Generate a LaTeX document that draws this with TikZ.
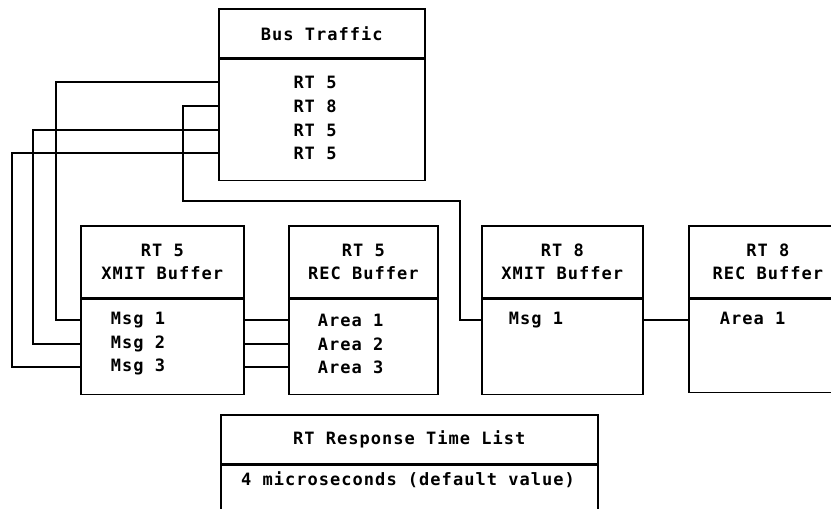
\documentclass[tikz,border=0pt]{standalone}
\usepackage{fontspec}
\newfontfamily\plotfont[LetterSpace=6]{DejaVu Sans Mono Bold}
\begin{document}
\begin{tikzpicture}
[x=1pt,y=-1pt,line width=1.6pt,
 every node/.style={font=\plotfont\fontsize{17}{23}\selectfont},
 box part/.style={draw,anchor=north west,inner sep=0pt,align=center},
 row text/.style={inner sep=0pt,anchor=west}]
\useasboundingbox (0,0) rectangle (831,509);
\clip (0,0) rectangle (831,509);
% boxes
\node[box part,minimum width=206pt,minimum height=49pt] (bus head) at (218,8) {Bus Traffic};
\node[box part,minimum width=206pt,minimum height=121pt] (bus body) at (bus head.south west) {};
\node[box part,minimum width=163pt,minimum height=72pt] (x5 head) at (80,225) {RT 5\\XMIT Buffer};
\node[box part,minimum width=163pt,minimum height=95pt] (x5 body) at (x5 head.south west) {};
\node[box part,minimum width=149pt,minimum height=72pt] (r5 head) at (288,225) {RT 5\\REC Buffer};
\node[box part,minimum width=149pt,minimum height=95pt] (r5 body) at (r5 head.south west) {};
\node[box part,minimum width=161pt,minimum height=72pt] (x8 head) at (481,225) {RT 8\\XMIT Buffer};
\node[box part,minimum width=161pt,minimum height=95pt] (x8 body) at (x8 head.south west) {};
\node[box part,minimum width=158pt,minimum height=72pt] (r8 head) at (688,225) {RT 8\\REC Buffer};
\node[box part,minimum width=158pt,minimum height=93pt] (r8 body) at (r8 head.south west) {};
\node[box part,minimum width=377pt,minimum height=49pt] (time head) at (220,414) {RT Response Time List};
\node[box part,minimum width=377pt,minimum height=60pt] (time body) at (time head.south west) {};
% rows
\node (b1) at (315,82) {RT 5};
\node (b2) at (315,106) {RT 8};
\node (b3) at (315,130) {RT 5};
\node (b4) at (315,153) {RT 5};
\node[row text] (m1) at (110,320) {Msg 1};
\node[row text] (m2) at (110,344) {Msg 2};
\node[row text] (m3) at (110,367) {Msg 3};
\node[row text] (a1) at (317,320) {Area 1};
\node[row text] (a2) at (317,344) {Area 2};
\node[row text] (a3) at (317,367) {Area 3};
\node[row text] (n1) at (508,320) {Msg 1};
\node[row text] (p1) at (719,318) {Area 1};
\node (t1) at (408,480) {4 microseconds (default value)};
% lanes
\coordinate (lane1) at (56,0);
\coordinate (lane2) at (33,0);
\coordinate (lane3) at (12,0);
\coordinate (lane4) at (183,201);
\coordinate (lane5) at (460,201);
% connectors
\draw (bus body.west |- b1) -| (lane1 |- m1) -- (x5 body.west |- m1);
\draw (bus body.west |- b3) -| (lane2 |- m2) -- (x5 body.west |- m2);
\draw (bus body.west |- b4) -| (lane3 |- m3) -- (x5 body.west |- m3);
\draw (bus body.west |- b2) -| (lane4) -- (lane5) |- (x8 body.west |- n1);
\draw (x5 body.east |- m1) -- (r5 body.west |- a1);
\draw (x5 body.east |- m2) -- (r5 body.west |- a2);
\draw (x5 body.east |- m3) -- (r5 body.west |- a3);
\draw (x8 body.east |- n1) -- (r8 body.west |- n1);
\end{tikzpicture}
\end{document}
